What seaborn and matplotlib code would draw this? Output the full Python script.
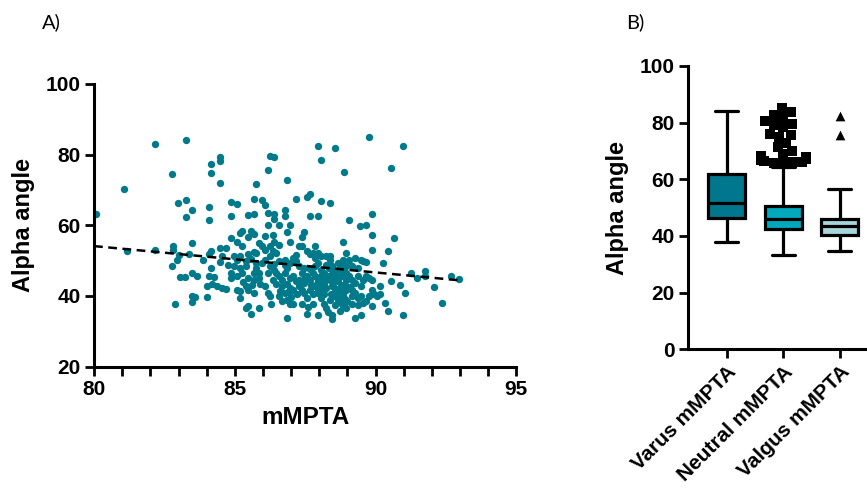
import matplotlib
matplotlib.use("Agg")
import matplotlib.pyplot as plt
import seaborn as sns
import pandas as pd
from matplotlib.ticker import MultipleLocator

sns.set_style("ticks")
plt.rcParams['font.family'] = ['Liberation Sans', 'DejaVu Sans']
plt.rcParams.update({"text.color": "black", "axes.labelcolor": "black",
                     "xtick.color": "black", "ytick.color": "black"})

# ---------------- data: scatter (mMPTA vs Alpha angle) ----------------
mmpta = [
    80.07, 81.06, 82.16, 83.26, 82.77, 81.18, 82.16, 82.97, 83.26, 83.48, 83.26, 84.08, 84.08, 84.17, 84.17,
    84.47, 84.47, 84.47, 84.87, 85.07, 84.87, 85.77, 85.67, 85.47, 85.67, 86.17, 86.26, 86.38, 85.97, 86.06,
    86.17, 86.38, 86.38, 86.17, 86.57, 86.87, 86.78, 86.78, 86.97, 87.17, 87.56, 87.67, 87.97, 88.06, 88.06,
    87.66, 87.97, 88.37, 88.56, 88.87, 89.05, 89.46, 89.65, 89.75, 89.86, 89.86, 90.97, 90.56, 90.66, 90.45,
    90.26, 89.87,
    82.79, 82.81, 83.00, 82.93, 82.77, 83.07, 83.23, 83.48, 83.38, 83.48, 83.66, 82.86, 83.48, 83.57, 83.48,
    83.88, 84.00, 84.07, 84.07, 84.17, 84.17, 84.27, 84.00, 84.37, 84.47, 84.47, 84.56, 84.56, 84.68, 84.76,
    84.87, 84.87, 84.97, 84.97, 84.70, 84.20,
    85.07, 85.18, 85.27, 85.47, 85.57, 85.27, 85.47, 85.67, 85.77, 85.07, 85.18, 85.38, 85.57, 85.18, 85.38,
    84.87, 85.07, 85.27, 85.47, 85.67, 85.87, 85.97, 85.87, 85.07, 85.18, 85.38, 85.47, 85.67, 85.38, 85.47,
    85.57, 85.87, 85.67, 85.77, 85.77, 85.97, 85.87, 85.67, 86.06, 86.06, 86.06, 86.06, 86.17, 86.26, 86.17,
    86.26, 86.36, 86.48, 86.57, 86.26, 86.38, 86.48, 86.57, 86.67, 86.77, 86.87, 86.36, 86.48, 86.67, 86.87,
    86.97, 86.77, 86.57, 86.87, 86.67, 86.97, 86.87, 87.07, 86.38, 86.57, 86.87, 86.97, 86.77, 86.97, 87.07,
    86.26, 86.36, 87.17, 87.07, 87.17, 87.07, 86.97, 86.77,
    87.17, 87.27, 87.38, 87.47, 87.38, 87.57, 87.66, 87.77, 87.86, 87.27, 87.38, 87.47, 87.57, 87.66, 87.77,
    87.86, 87.97, 87.27, 87.38, 87.47, 87.57, 87.66, 87.77, 87.86, 87.97, 87.38, 87.57, 87.77, 87.97, 87.27,
    87.47, 87.66, 87.86, 87.97, 87.97, 87.86, 87.97, 88.06, 88.06, 88.06, 88.06, 88.06,
    88.16, 88.25, 88.37, 88.46, 88.56, 88.65, 88.76, 88.85, 88.96, 88.85, 88.16, 88.25, 88.37, 88.46, 88.56,
    88.65, 88.76, 88.85, 88.96, 88.56, 88.65, 88.76, 88.85, 88.46, 88.46, 88.16, 88.25, 88.16, 88.37, 88.56,
    88.76, 88.96, 88.96, 88.65, 88.85, 88.25, 88.37, 88.96, 88.85, 89.05, 89.05,
    88.50, 88.60, 88.70, 88.80, 88.90, 88.40, 88.30, 88.55, 88.70, 88.90, 89.00, 88.20, 88.45, 88.75, 88.60,
    88.35, 89.10, 89.15, 88.95, 88.80, 88.10, 87.90, 87.70, 87.50, 87.20, 87.00, 86.90, 86.60, 86.40, 85.90,
    85.60, 85.30, 85.20, 86.30, 87.60, 88.30,
    89.16, 89.27, 89.36, 89.47, 89.56, 89.67, 89.16, 89.27, 89.36, 89.47, 89.56, 89.67, 89.76, 89.16, 89.27,
    89.36, 89.47, 89.56, 89.67, 89.76, 89.86, 89.27, 89.47, 89.36, 89.16, 89.86, 89.96, 89.86,
    90.06, 90.15, 90.15, 90.35, 90.45, 90.56, 90.86, 90.97, 91.06, 91.26, 91.47, 91.77, 91.77, 92.06, 92.36,
    92.67, 92.98,
]
alpha = [
    63.2, 70.2, 82.9, 84.0, 74.5, 52.8, 53.1, 66.4, 67.2, 64.2, 62.3, 65.3, 61.6, 77.4, 74.7,
    79.3, 78.2, 71.9, 66.7, 66.0, 62.7, 71.6, 67.5, 62.9, 63.1, 75.7, 79.5, 79.3, 67.2, 65.8,
    63.6, 63.2, 61.9, 60.2, 60.2, 72.8, 64.4, 62.5, 60.2, 67.4, 67.9, 68.9, 82.5, 78.4, 67.0,
    62.6, 62.6, 66.4, 82.0, 75.1, 61.4, 59.8, 60.0, 85.1, 63.2, 57.3, 82.4, 76.3, 56.3, 52.6,
    49.4, 53.1,
    54.2, 53.1, 51.7, 50.3, 48.4, 45.4, 45.4, 55.0, 52.0, 46.5, 45.7, 37.6, 39.9, 39.7, 38.3,
    50.3, 42.7, 52.0, 45.7, 52.6, 47.9, 45.4, 39.6, 42.7, 53.6, 49.5, 51.2, 42.3, 53.6, 48.8,
    56.3, 45.1, 51.2, 48.4, 42.0, 43.5,
    55.4, 57.8, 58.3, 56.8, 58.5, 54.0, 52.0, 52.3, 52.1, 50.3, 51.2, 49.8, 50.4, 47.9, 48.4,
    46.5, 45.6, 46.5, 45.1, 44.6, 46.5, 49.3, 45.1, 41.8, 41.3, 42.7, 41.8, 40.8, 36.6, 37.1,
    35.0, 36.6, 46.5, 47.9, 49.3, 54.0, 55.0, 57.6, 57.0, 53.1, 50.3, 42.7, 40.8, 39.9, 46.5,
    51.2, 52.6, 52.1, 49.8, 48.4, 47.4, 46.5, 45.6, 44.6, 46.5, 47.9, 44.6, 43.5, 42.7, 43.5,
    42.3, 40.8, 39.9, 38.9, 38.5, 37.6, 33.7, 37.6, 55.4, 54.5, 58.0, 55.4, 50.3, 49.3, 50.7,
    54.0, 57.3, 49.8, 45.6, 44.1, 41.8, 45.1, 48.8,
    51.7, 54.0, 56.7, 58.0, 54.0, 52.6, 52.0, 52.1, 54.0, 48.4, 46.5, 47.9, 45.6, 44.6, 46.5,
    48.4, 52.1, 42.7, 41.8, 40.8, 39.4, 41.8, 40.4, 42.7, 40.8, 37.6, 35.0, 37.7, 34.7, 44.6,
    43.7, 47.6, 45.6, 44.1, 41.8, 50.7, 49.3, 47.4, 45.6, 42.9, 39.4, 51.2,
    46.5, 48.8, 50.3, 48.4, 47.0, 49.3, 48.4, 50.3, 52.1, 55.4, 43.7, 42.3, 44.6, 42.7, 41.3,
    40.8, 42.7, 40.4, 41.8, 39.9, 38.9, 37.9, 37.1, 33.5, 34.7, 37.6, 36.6, 40.4, 38.9, 45.1,
    45.6, 46.5, 44.6, 44.1, 43.2, 51.2, 51.2, 48.4, 47.0, 50.3, 45.6,
    43.5, 46.0, 39.5, 41.0, 39.0, 40.5, 45.5, 37.5, 47.5, 43.0, 38.5, 44.8, 46.2, 35.8, 42.0,
    47.8, 42.5, 40.0, 36.5, 49.0, 41.5, 43.2, 43.0, 45.0, 40.5, 39.8, 41.2, 41.5, 49.0, 43.5,
    43.2, 44.0, 39.5, 37.8, 37.0, 35.5,
    48.4, 50.7, 47.9, 50.3, 49.8, 49.5, 44.6, 43.7, 45.6, 42.7, 44.6, 45.6, 45.1, 41.8, 40.8,
    39.4, 39.9, 37.9, 38.5, 39.9, 37.1, 33.8, 34.7, 37.3, 37.6, 41.8, 40.4, 44.6,
    39.9, 40.4, 42.7, 38.0, 35.7, 44.1, 43.2, 34.7, 40.8, 46.5, 45.0, 47.0, 45.7, 42.6, 38.0,
    45.7, 44.7,
]
# dashed trend line
fit_x = [80.0, 93.0]
fit_y = [54.1, 44.4]

# ---------------- data: box plot ----------------
groups = ["Varus mMPTA", "Neutral mMPTA", "Valgus mMPTA"]
q1 = [46.4, 42.4, 40.5]
med = [51.5, 45.9, 43.5]
q3 = [61.8, 50.7, 46.1]
whis_lo = [37.7, 33.3, 34.8]
whis_hi = [84.1, 64.5, 56.5]
neutral_outliers = [85.2, 83.8, 82.6, 82.0, 80.5, 79.5, 79.2, 78.3, 76.0, 75.5, 74.8, 72.8, 71.5,
                    70.0, 68.9, 68.2, 67.9, 67.5, 67.3, 67.0, 66.8, 66.5, 66.2, 66.0, 65.8, 65.5]
valgus_outliers = [82.2, 75.8]
box_colors = ["#00778C", "#00A8BC", "#A6D6DC"]

point_color = "#007A8A"
lw = 2.3

fig = plt.figure(figsize=(8.67, 4.94), dpi=100)

# ---------------- left panel ----------------
ax1 = fig.add_axes([0.1085, 0.258, 0.487, 0.572])
sns.scatterplot(x=mmpta, y=alpha, ax=ax1, color=point_color, s=28, linewidth=0, zorder=2)
sns.lineplot(x=fit_x, y=fit_y, ax=ax1, color="black", linestyle=(0, (3.5, 2.2)), linewidth=1.8, zorder=3)
ax1.set_xlim(80, 95)
ax1.set_ylim(20, 100)
ax1.xaxis.set_major_locator(MultipleLocator(5))
ax1.xaxis.set_minor_locator(MultipleLocator(1))
ax1.yaxis.set_major_locator(MultipleLocator(20))
ax1.set_xlabel("mMPTA", fontsize=17.5, fontweight="bold", labelpad=5)
ax1.set_ylabel("Alpha angle", fontsize=17, fontweight="bold", labelpad=8)
sns.despine(ax=ax1)

# ---------------- right panel ----------------
ax2 = fig.add_axes([0.7935, 0.2929, 0.2055, 0.5735])
stats = []
for i, g in enumerate(groups):
    stats.append(dict(label=g, q1=q1[i], med=med[i], q3=q3[i],
                      whislo=whis_lo[i], whishi=whis_hi[i], fliers=[]))
bp = ax2.bxp(stats, positions=[0, 1, 2], widths=0.66, capwidths=0.41, patch_artist=True,
             showfliers=False,
             boxprops=dict(linewidth=lw, edgecolor="black"),
             whiskerprops=dict(linewidth=lw, color="black"),
             capprops=dict(linewidth=lw, color="black"),
             medianprops=dict(linewidth=lw, color="black"))
for patch, c in zip(bp["boxes"], box_colors):
    patch.set_facecolor(c)

df_n = pd.DataFrame({"group": groups[1], "value": neutral_outliers})
df_v = pd.DataFrame({"group": groups[2], "value": valgus_outliers})
sns.swarmplot(data=df_n, x="group", y="value", order=groups, ax=ax2, marker="s",
              color="black", size=6.5, linewidth=0)
sns.swarmplot(data=df_v, x="group", y="value", order=groups, ax=ax2, marker="^",
              color="black", size=7, linewidth=0)

ax2.set_xlim(-0.687, 2.47)
ax2.set_ylim(0, 100)
ax2.yaxis.set_major_locator(MultipleLocator(20))
ax2.set_xticks([0, 1, 2])
ax2.set_xticklabels(groups, rotation=45, ha="right", rotation_mode="anchor")
ax2.set_xlabel("")
ax2.set_ylabel("Alpha angle", fontsize=17, fontweight="bold", labelpad=8)
sns.despine(ax=ax2)

for ax in (ax1, ax2):
    for sp in ("left", "bottom"):
        ax.spines[sp].set_linewidth(2.2)
        ax.spines[sp].set_color("black")
    ax.tick_params(axis="both", which="both", width=2.0, length=6.5, color="black",
                   labelsize=15, pad=3, labelcolor="black")
    for lab in ax.get_xticklabels() + ax.get_yticklabels():
        lab.set_fontweight("bold")

fig.text(0.048, 0.955, "A)", fontsize=14.5, family=["Lato", "DejaVu Sans"], va="center")
fig.text(0.722, 0.955, "B)", fontsize=14.5, family=["Lato", "DejaVu Sans"], va="center")

fig.savefig("out.png", dpi=100)
